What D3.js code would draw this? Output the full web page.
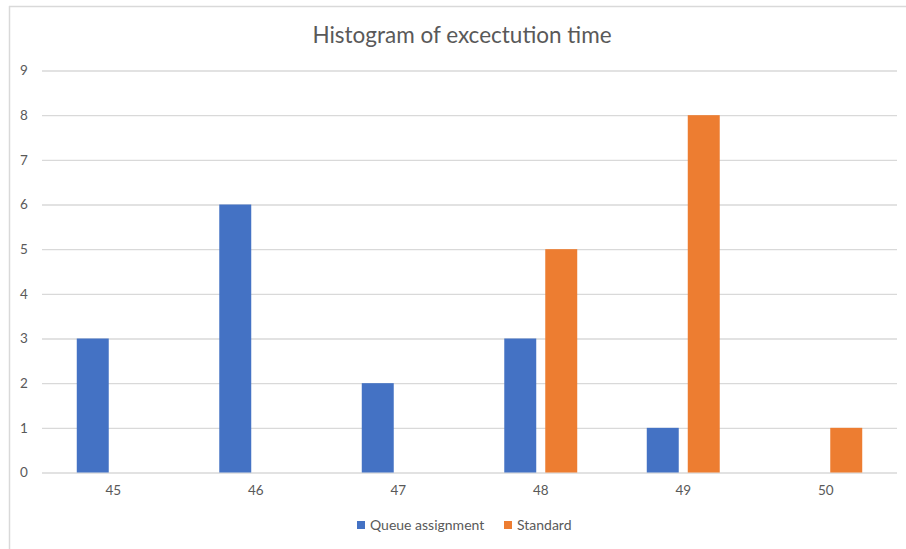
<!DOCTYPE html>
<html>
<head>
<meta charset="utf-8">
<script src="https://cdn.jsdelivr.net/npm/d3@7"></script>
<style>
  html, body { margin: 0; padding: 0; background: #fff; }
  svg { display: block; }
  text { font-family: Lato, "Open Sans", "Noto Sans", sans-serif; fill: #595959; }
</style>
</head>
<body>
<svg id="chart" width="906" height="549"></svg>
<script>
// Histogram bins and counts per method
const categories = ["45", "46", "47", "48", "49", "50"];
const seriesNames = ["Queue assignment", "Standard"];
const queueAssignment = [3, 6, 2, 3, 1, 0];
const standard = [0, 0, 0, 5, 8, 1];
const yTicks = [0, 1, 2, 3, 4, 5, 6, 7, 8, 9];
const colors = ["#4472C4", "#ED7D31"];
const title = "Histogram of excectution time";

const seriesValues = [queueAssignment, standard];

const svg = d3.select("#chart");
const W = 906, H = 549;
const plot = { left: 42, right: 897, top: 70.5, bottom: 472.5 };

// Chart frame (top and left edges)
svg.append("line").attr("x1", 9).attr("x2", W).attr("y1", 6.5).attr("y2", 6.5)
  .attr("stroke", "#d9d9d9").attr("stroke-width", 1.5);
svg.append("line").attr("x1", 9.5).attr("x2", 9.5).attr("y1", 6).attr("y2", H)
  .attr("stroke", "#d9d9d9").attr("stroke-width", 1.5);

// Title
svg.append("text")
  .attr("x", 462).attr("y", 43)
  .attr("text-anchor", "middle")
  .style("font-size", "22.5px")
  .text(title);

const y = d3.scaleLinear().domain([0, 9]).range([plot.bottom, plot.top]);
const x0 = d3.scaleBand().domain(categories).range([plot.left, plot.right]);
const groupW = x0.bandwidth() * 0.512;
const x1 = d3.scaleBand().domain(seriesNames)
  .range([(x0.bandwidth() - groupW) / 2, (x0.bandwidth() + groupW) / 2])
  .paddingInner(0.22);

// Gridlines and y labels
const yAxis = d3.axisLeft(y).tickValues(yTicks).tickSize(-(plot.right - plot.left)).tickFormat(d3.format("d"));
const gy = svg.append("g").attr("transform", `translate(${plot.left},0)`).call(yAxis);
gy.select(".domain").remove();
gy.selectAll(".tick line").attr("stroke", "#d9d9d9").attr("stroke-width", 1.3);
gy.selectAll(".tick text")
  .attr("x", -18).attr("text-anchor", "middle")
  .style("font-size", "13.5px").style("fill", "#595959").style("font-family", "Lato, 'Open Sans', sans-serif");

// Bars
const groups = svg.append("g").selectAll("g")
  .data(categories)
  .join("g")
  .attr("transform", d => `translate(${x0(d)},0)`);

groups.selectAll("rect")
  .data((d, i) => seriesNames.map((s, j) => ({ s, j, v: seriesValues[j][i] })))
  .join("rect")
  .attr("x", d => x1(d.s))
  .attr("width", x1.bandwidth())
  .attr("y", d => y(d.v))
  .attr("height", d => y(0) - y(d.v))
  .attr("fill", d => colors[d.j]);

// X labels
const xAxis = d3.axisBottom(x0).tickSize(0);
const gx = svg.append("g").attr("transform", `translate(0,${plot.bottom})`).call(xAxis);
gx.select(".domain").remove();
gx.selectAll(".tick text")
  .attr("y", 13)
  .style("font-size", "13.5px").style("fill", "#595959").style("font-family", "Lato, 'Open Sans', sans-serif");

// Legend
const legendItems = [{ name: seriesNames[0], x: 357 }, { name: seriesNames[1], x: 504 }];
const lg = svg.append("g").selectAll("g").data(legendItems).join("g")
  .attr("transform", (d) => `translate(${d.x},521)`);
lg.append("rect").attr("width", 8).attr("height", 8)
  .attr("fill", (d, i) => colors[i]);
lg.append("text").attr("x", 13).attr("y", 9)
  .style("font-size", "14px")
  .text(d => d.name);
</script>
</body>
</html>
